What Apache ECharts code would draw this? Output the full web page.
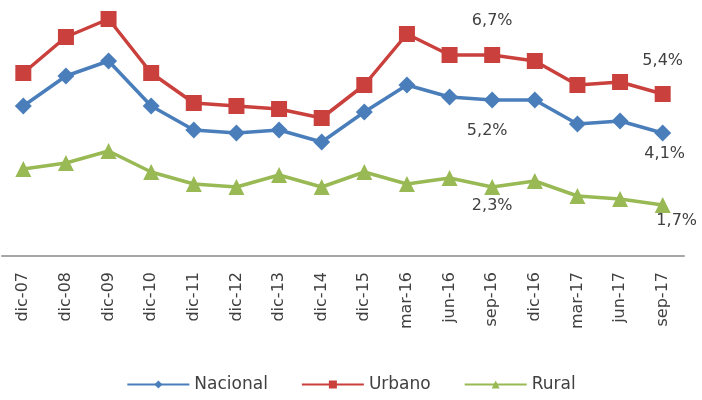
<!DOCTYPE html>
<html><head><meta charset="utf-8">
<script src="https://cdn.jsdelivr.net/npm/echarts@6/dist/echarts.min.js"></script>
<style>html,body{margin:0;padding:0;background:#fff}#c{width:702px;height:400px}</style>
</head><body><div id="c"></div>
<script>
const categories = ['dic-07','dic-08','dic-09','dic-10','dic-11','dic-12','dic-13','dic-14','dic-15','mar-16','jun-16','sep-16','dic-16','mar-17','jun-17','sep-17'];
const nacional = [5.0, 6.0, 6.5, 5.0, 4.2, 4.1, 4.2, 3.8, 4.8, 5.7, 5.3, 5.2, 5.2, 4.4, 4.5, 4.1];
const urbano   = [6.1, 7.3, 7.9, 6.1, 5.1, 5.0, 4.9, 4.6, 5.7, 7.4, 6.7, 6.7, 6.5, 5.7, 5.8, 5.4];
const rural    = [2.9, 3.1, 3.5, 2.8, 2.4, 2.3, 2.7, 2.3, 2.8, 2.4, 2.6, 2.3, 2.5, 2.0, 1.9, 1.7];
const labelledNacional = {11: {position:'bottom', distance:14, offset:[-5,0]}, 15: {position:'bottom', distance:4, offset:[2,0]}};
const labelledUrbano = {11: {position:'top', distance:18, offset:[0,0]}, 15: {position:'top', distance:17, offset:[0,0]}};
const labelledRural = {11: {position:'bottom', distance:3, offset:[0,0]}, 15: {position:'bottom', distance:0, offset:[14,0]}};
const FONT = 'DejaVu Sans, Verdana, sans-serif';
const fmt = v => v.toFixed(1).replace('.', ',') + '%';
function build(values, lab) {
  return values.map((v, i) => lab[i] ? {value: v, label: Object.assign({show: true, formatter: fmt(v), color:'#404040', fontSize:16, fontFamily:FONT}, lab[i])} : v);
}
const chart = echarts.init(document.getElementById('c'), null, {renderer:'canvas'});
const base = {type:'line', emphasis:{disabled:true}, animation:false};
chart.setOption({
  animation:false,
  grid:{left:2, right:18, top:16, bottom:144},
  legend:{top:371, left:'center', itemWidth:62, itemHeight:10, itemGap:33,
    textStyle:{fontSize:17, color:'#404040', fontFamily:FONT},
    data:['Nacional','Urbano','Rural']},
  xAxis:{type:'category', data:categories, boundaryGap:true,
    axisLine:{lineStyle:{color:'#a6a6a6', width:2}}, axisTick:{show:false},
    axisLabel:{rotate:90, margin:16, fontSize:16, color:'#404040', fontFamily:FONT, interval:0}},
  yAxis:{type:'value', min:0, max:8, show:false, splitLine:{show:false}},
  series:[
    Object.assign({}, base, {name:'Nacional', data:build(nacional, labelledNacional), symbol:'diamond', symbolSize:17, color:'#4a7ebb', itemStyle:{color:'#4a7ebb'}, lineStyle:{width:3.5, color:'#4a7ebb'}}),
    Object.assign({}, base, {name:'Urbano', data:build(urbano, labelledUrbano), symbol:'rect', symbolSize:16, color:'#c9403c', itemStyle:{color:'#c9403c'}, lineStyle:{width:3.5, color:'#c9403c'}}),
    Object.assign({}, base, {name:'Rural', data:build(rural, labelledRural), symbol:'triangle', symbolSize:16, color:'#98b954', itemStyle:{color:'#98b954'}, lineStyle:{width:3.5, color:'#98b954'}})
  ]
});
</script></body></html>
